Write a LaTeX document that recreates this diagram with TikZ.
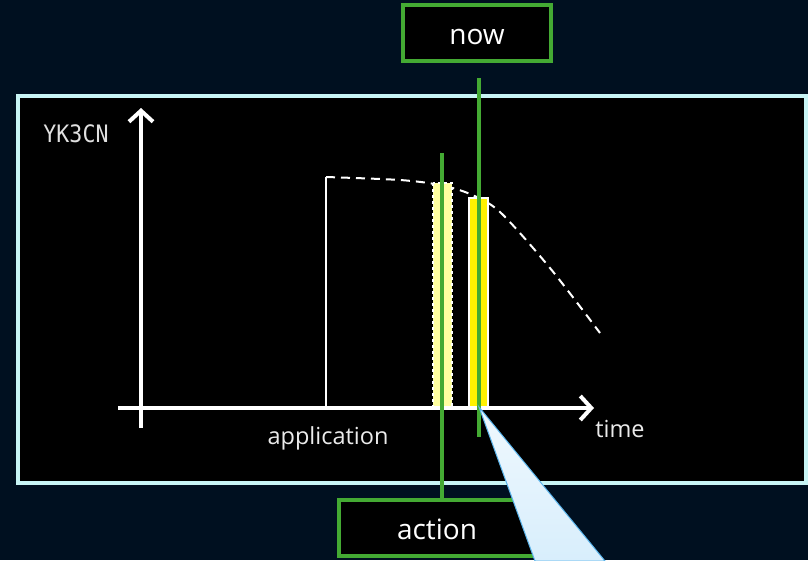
\documentclass[tikz,border=0pt]{standalone}
\usepackage{fontspec}
\setmainfont{Open Sans}
\setmonofont{DejaVu Sans Mono}
\usetikzlibrary{arrows.meta,positioning}
\definecolor{navy}{RGB}{0,16,32}
\definecolor{panelrim}{RGB}{200,245,245}
\definecolor{marker}{RGB}{68,170,51}
\definecolor{paleyellow}{RGB}{255,255,160}
\definecolor{calloutrim}{RGB}{90,180,235}
\definecolor{calloutfill}{RGB}{216,238,252}
\begin{document}
\begin{tikzpicture}[
        x=1pt, y=-1pt,
        label_box/.style={rectangle, draw=marker, line width=4pt, fill=black, text=white, minimum height=56pt, text height=27pt, text depth=4pt, font=\fontsize{28}{30}\selectfont},
        marker_line/.style={draw=marker, line width=4pt},
        axis_line/.style={draw=white, line width=4pt, -{Straight Barb[length=11pt, width=24pt]}},
        axis_label/.style={text=white!92!black, font=\fontsize{23.5}{26}\selectfont},
        bar/.style={draw=white, line width=1.5pt}
    ]
        % Canvas and panel
        \fill[navy] (0,0) rectangle (808,560);
        \useasboundingbox (0,0) rectangle (808,560);
        \draw[draw=panelrim, line width=4pt, fill=black] (18,96) rectangle (806,483);

        % Curve of the quantity
        \draw[white, line width=1.5pt] (326,408) -- (326,177);
        \draw[white, line width=2pt, dash pattern=on 9pt off 6pt] plot[smooth] coordinates {(326,177) (400,180) (440,185) (470,194) (500,212) (550,268) (600,333)};

        % Bars
        \draw[bar, dashed, fill=paleyellow] (433,183) rectangle (452,408);
        \draw[bar, fill=yellow] (469,198) rectangle (488,408);

        % Axes
        \draw[axis_line] (118,408) -- (594,408);
        \draw[axis_line] (141,428) -- (141,108);
        \node[axis_label] (application) at (328,438) {application};
        \node[axis_label] (time) at (620,429) {time};
        \node[text=white!88!black, font=\ttfamily\fontsize{24}{26}\selectfont, xscale=0.9] (quantity) at (76,134) {YK3CN};

        % Markers
        \node[label_box, minimum width=148pt] (nowbox) at (477,32.5) {now};
        \node[label_box, minimum width=196pt] (actionbox) at (437,528) {action};
        \coordinate (nowtop) at (479,78);
        \coordinate (nowbottom) at (479,437);
        \coordinate (actiontop) at (442,153);
        \draw[marker_line] (nowtop) -- (nowbottom);
        \draw[marker_line] (actiontop) -- (actiontop |- actionbox.north);

        % Callout pointer
        \coordinate (tip) at (479,407);
        \draw[draw=calloutrim, line width=1pt, top color=white!60!calloutfill, bottom color=calloutfill] (tip) -- (605,561) -- (535,561) -- cycle;
    \end{tikzpicture}
\end{document}
